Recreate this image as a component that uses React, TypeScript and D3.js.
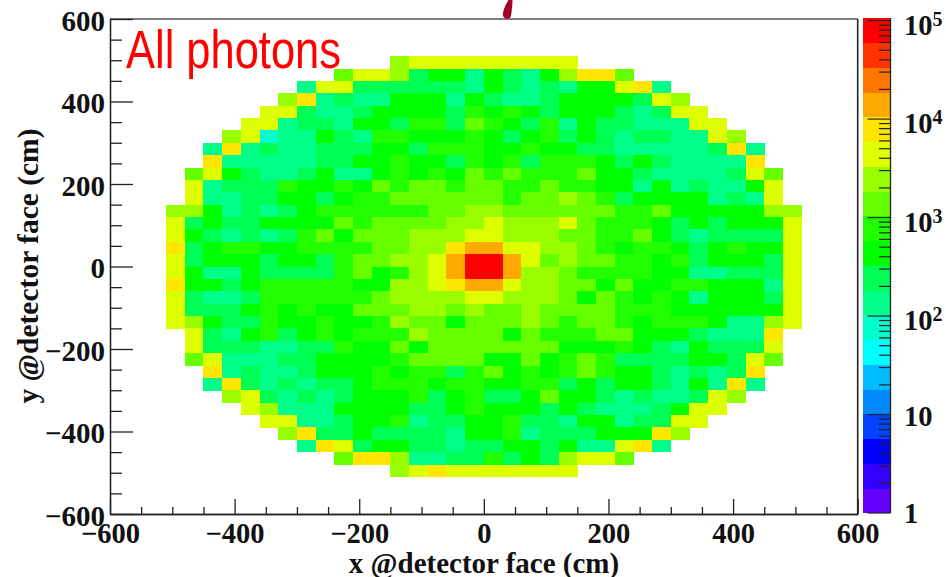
import React, { useEffect, useRef } from 'react';
import * as d3 from 'd3';

// 40 x 40 bins, 30 cm wide, -600..600 on both axes
const binEdges = d3.range(-600, 601, 30);
const firstRow = 3; // first filled row counted from the top
const firstBin = [15,12,10,9,8,7,6,5,5,4,4,4,3,3,3,3,3,3,3,3,3,3,4,4,4,5,5,6,7,8,9,10,12,15];

// photons per bin
const photonCounts = [
  [2400,4200,4200,4200,4200,4200,4200,4200,4200,4200],
  [1300,4200,4200,2400,240,420,420,130,420,240,130,420,2400,7500,7500,1300],
  [130,4200,4200,240,240,240,240,240,240,130,420,240,130,240,130,420,420,4200,7500,130],
  [2400,7500,130,240,130,130,420,420,420,130,420,240,130,130,240,420,420,420,420,240,4200,2400],
  [4200,4200,240,130,130,240,420,420,420,420,240,750,420,750,420,240,420,420,420,240,130,240,4200,4200],
  [4200,4200,130,240,240,130,420,420,240,750,750,240,1300,750,420,240,750,130,420,240,240,130,130,130,4200,4200],
  [2400,4200,75,130,130,420,240,130,750,750,420,420,420,750,420,240,420,750,240,420,240,130,240,240,130,130,4200,2400],
  [130,7500,130,240,130,130,240,240,240,420,420,240,750,750,750,420,420,750,420,420,240,240,130,130,130,130,130,240,7500,130],
  [7500,130,130,130,130,130,240,240,420,420,750,420,420,240,750,420,750,240,750,750,750,420,240,420,240,130,130,130,130,7500],
  [1300,4200,420,240,130,130,240,420,130,130,420,750,420,750,420,1300,750,1300,750,750,750,1300,420,420,240,130,130,130,130,240,4200,1300],
  [4200,130,240,240,240,750,420,420,750,420,1300,750,1300,1300,750,1300,1300,750,750,1300,750,750,420,420,130,420,130,240,130,130,420,4200],
  [4200,130,130,240,240,420,420,240,420,750,750,1300,1300,1300,1300,1300,1300,750,1300,1300,2400,1300,750,240,420,420,420,420,130,240,130,4200],
  [2400,2400,420,130,240,130,240,420,750,750,750,750,750,750,1300,1300,2400,2400,1300,1300,1300,1300,1300,1300,750,750,1300,420,420,420,420,420,2400,2400],
  [4200,240,420,240,240,420,420,420,420,1300,750,1300,1300,1300,1300,2400,2400,4200,2400,2400,2400,4200,1300,750,750,750,420,240,420,240,420,420,420,4200],
  [4200,420,240,130,240,130,240,750,1300,420,1300,1300,1300,2400,2400,2400,4200,4200,2400,2400,2400,1300,1300,750,750,1300,420,240,130,240,240,240,240,4200],
  [7500,240,420,750,750,420,420,750,750,750,750,1300,1300,2400,2400,7500,13000,13000,4200,4200,2400,2400,1300,750,420,750,750,420,240,420,750,420,420,4200],
  [4200,240,420,420,420,240,420,420,240,750,1300,1300,2400,2400,4200,13000,75000,75000,13000,4200,1300,2400,1300,1300,750,750,420,750,240,420,420,420,240,4200],
  [4200,420,130,130,420,240,240,240,240,750,1300,420,750,2400,4200,13000,75000,75000,13000,2400,2400,1300,750,750,750,750,420,420,130,130,240,240,240,4200],
  [7500,420,420,240,420,750,750,750,750,750,420,420,2400,2400,4200,7500,13000,13000,4200,2400,2400,1300,1300,420,1300,420,420,750,750,420,420,420,130,4200],
  [4200,240,130,130,240,750,750,750,750,750,750,1300,2400,2400,2400,2400,4200,4200,2400,2400,2400,1300,420,1300,750,420,750,420,130,420,420,420,240,4200],
  [4200,240,240,240,420,750,420,750,420,420,1300,1300,1300,2400,2400,1300,2400,1300,1300,2400,1300,1300,1300,1300,750,750,750,420,420,420,420,420,420,4200],
  [4200,2400,420,240,240,750,420,420,750,420,420,750,2400,1300,1300,420,1300,1300,1300,2400,1300,750,1300,1300,750,420,750,750,750,420,130,130,2400,4200],
  [4200,240,130,420,750,240,420,750,420,750,750,750,2400,1300,1300,1300,1300,420,1300,750,750,750,1300,1300,420,420,420,240,130,130,130,7500],
  [4200,240,240,240,130,130,240,240,750,420,420,1300,420,1300,1300,1300,1300,1300,1300,1300,420,420,420,750,420,240,130,420,240,240,240,4200],
  [1300,4200,130,130,130,240,240,420,420,420,420,750,1300,1300,1300,1300,420,420,1300,420,750,1300,750,240,240,240,240,420,420,240,4200,1300],
  [7500,130,240,130,130,240,420,420,420,750,420,750,750,240,750,1300,420,750,420,750,1300,750,420,420,240,130,240,130,240,7500],
  [130,7500,240,130,240,130,240,240,420,750,750,750,420,750,750,420,420,750,750,240,420,240,420,420,240,130,420,130,7500,130],
  [2400,4200,240,130,240,130,240,420,420,420,750,240,420,750,240,240,420,1300,420,420,240,130,240,130,130,240,4200,2400],
  [4200,2400,130,130,130,420,420,420,420,240,240,420,750,420,420,420,240,420,240,130,130,130,240,420,4200,4200],
  [4200,4200,130,130,240,420,420,750,130,240,240,420,420,750,240,240,130,420,420,130,240,240,4200,4200],
  [2400,7500,240,240,420,240,240,240,240,130,420,420,750,130,240,240,240,420,420,420,7500,2400],
  [130,7500,4200,240,420,420,240,240,130,240,240,420,420,240,420,130,130,4200,7500,130],
  [1300,7500,7500,2400,130,130,240,240,750,240,420,240,2400,4200,4200,1300],
  [2400,4200,7500,4200,4200,4200,4200,4200,4200,4200],
];

// ROOT rainbow palette as it appears in the colour bar, bottom to top
const paletteColors = [
  '#6600ff','#3300ff','#0000ff','#0044ff','#0088ff','#00bbff','#00ffff','#00ffcc','#00ff88','#00ff55',
  '#00ff00','#22ff00','#66ff00','#99ff00','#ddff00','#ffe600','#ffaa00','#ff7700','#ff3300','#ff0000',
];
const zMax = 107000;

const xTicksMajor = [-600, -400, -200, 0, 200, 400, 600];
const yTicksMajor = [-600, -400, -200, 0, 200, 400, 600];
const minorTicks = d3.range(-550, 600, 50).filter(d => d % 200 !== 0);
const zDecades = [1, 10, 100, 1000, 10000, 100000];
const zDecadeExp = ['1', '10', '2', '3', '4', '5'];

const plot = { left: 110, right: 857.7, top: 19, bottom: 514 };
const bar = { left: 862.5, right: 890.5, top: 18, bottom: 513 };

export default function App() {
  const ref = useRef<SVGSVGElement>(null);

  useEffect(() => {
    const svg = d3.select(ref.current);
    svg.selectAll('*').remove();

    const x = d3.scaleLinear().domain([-600, 600]).range([plot.left, plot.right]);
    const y = d3.scaleLinear().domain([-600, 600]).range([plot.bottom, plot.top]);
    const color = d3.scaleQuantize<string>().domain([0, Math.log10(zMax)]).range(paletteColors);

    // heatmap cells
    const cells = photonCounts.flatMap((row, r) =>
      row.map((count, i) => ({ col: firstBin[r] + i, row: firstRow + r, count }))
    );
    svg.append('g').attr('shape-rendering', 'crispEdges')
      .selectAll('rect').data(cells).enter().append('rect')
      .attr('x', d => x(binEdges[d.col]))
      .attr('width', d => x(binEdges[d.col + 1]) - x(binEdges[d.col]) + 0.3)
      .attr('y', d => y(binEdges[40 - d.row]))
      .attr('height', d => y(binEdges[39 - d.row]) - y(binEdges[40 - d.row]) + 0.3)
      .attr('fill', d => color(Math.log10(d.count)));

    // frame
    svg.append('line').attr('x1', plot.left).attr('x2', plot.right).attr('y1', plot.top).attr('y2', plot.top)
      .attr('stroke', '#555').attr('stroke-width', 1.6);
    svg.append('line').attr('x1', plot.right).attr('x2', plot.right).attr('y1', plot.top).attr('y2', plot.bottom)
      .attr('stroke', '#222').attr('stroke-width', 1.6);

    const font = '"Liberation Serif", serif';

    const styleAxis = (g: any, size: number) => {
      g.selectAll('line,path').attr('stroke', '#222').attr('stroke-width', 1.3);
      g.selectAll('text').attr('font-family', font).attr('font-weight', 'bold').attr('font-size', size).attr('fill', '#111');
    };

    // x axis, ticks point up into the plot
    svg.append('g').attr('transform', `translate(0,${plot.bottom})`)
      .call(d3.axisBottom(x).tickValues(minorTicks).tickSize(-7).tickFormat(() => '').tickSizeOuter(0) as any)
      .call(styleAxis, 28);
    const xAxis = svg.append('g').attr('transform', `translate(0,${plot.bottom})`)
      .call(d3.axisBottom(x).tickValues(xTicksMajor).tickSize(-15).tickSizeOuter(0).tickPadding(14) as any)
      .call(styleAxis, 28.5);
    xAxis.selectAll('text').attr('dy', 0).attr('y', 28.7);

    // y axis
    svg.append('g').attr('transform', `translate(${plot.left},0)`)
      .call(d3.axisLeft(y).tickValues(minorTicks).tickSize(-12).tickFormat(() => '').tickSizeOuter(0) as any)
      .call(styleAxis, 28);
    const yAxis = svg.append('g').attr('transform', `translate(${plot.left},0)`)
      .call(d3.axisLeft(y).tickValues(yTicksMajor).tickSize(-23).tickSizeOuter(0) as any)
      .call(styleAxis, 29);
    yAxis.selectAll('text').attr('x', -5).attr('dy', 0).attr('y', 11);

    svg.append('text').text('x @detector face (cm)')
      .attr('x', 484).attr('y', 572.7).attr('text-anchor', 'middle')
      .attr('font-family', font).attr('font-weight', 'bold').attr('font-size', 29).attr('fill', '#111');
    svg.append('text').text('y @detector face (cm)')
      .attr('transform', 'translate(38,266) rotate(-90)').attr('text-anchor', 'middle')
      .attr('font-family', font).attr('font-weight', 'bold').attr('font-size', 29.5).attr('fill', '#111');

    // colour bar
    const z = d3.scaleLog().domain([1, 100000]).range([bar.bottom, 20.6]);
    const bandEdge = d3.scaleLinear().domain([0, paletteColors.length]).range([bar.bottom, bar.top]);
    svg.append('g').attr('shape-rendering', 'crispEdges')
      .selectAll('rect').data(paletteColors).enter().append('rect')
      .attr('x', bar.left).attr('width', bar.right - bar.left)
      .attr('y', (_, i) => bandEdge(i + 1))
      .attr('height', (_, i) => bandEdge(i) - bandEdge(i + 1) + 0.3)
      .attr('fill', d => d);
    svg.append('line').attr('x1', bar.right).attr('x2', bar.right).attr('y1', bar.top).attr('y2', bar.bottom)
      .attr('stroke', '#222').attr('stroke-width', 1.3);

    const zTicks = zDecades.slice(0, -1).flatMap(d => d3.range(1, 10).map(m => d * m)).concat(100000);
    svg.append('g').selectAll('line').data(zTicks).enter().append('line')
      .attr('x1', d => bar.right - (zDecades.includes(d) ? 23 : 11.5)).attr('x2', bar.right)
      .attr('y1', d => z(d)).attr('y2', d => z(d))
      .attr('stroke', '#222').attr('stroke-width', 1.2);

    const zLabels = svg.append('g').attr('font-family', font).attr('font-weight', 'bold').attr('fill', '#111');
    zDecades.forEach((d, i) => {
      const t = zLabels.append('text').attr('x', 904).attr('font-size', 28.5);
      if (d === 1) {
        t.attr('y', z(d) + 10).text('1');
      } else if (d === 10) {
        t.attr('y', z(d) + 11.5).text('10');
      } else {
        t.attr('y', z(d) + 14).text('10');
        t.append('tspan').attr('dy', -9).attr('font-size', 20).text(zDecadeExp[i]);
      }
    });

    svg.append('text').text('All photons')
      .attr('x', 126).attr('y', 68)
      .attr('font-family', '"Liberation Sans", sans-serif').attr('font-size', 53)
      .attr('textLength', 215).attr('lengthAdjust', 'spacingAndGlyphs').attr('fill', '#ff0000');

    // stray mark above the frame
    svg.append('path').attr('d', 'M508.5,0 L512.5,0 C512.5,6 511.5,12 511,16 C510,19.5 505,19.5 503,16 C502.5,11 505.5,5 508.5,0 Z')
      .attr('fill', '#a50026');
  }, []);

  return <svg ref={ref} width={946} height={577} style={{ position: 'absolute', left: 0, top: 0, background: '#fff' }} />;
}
